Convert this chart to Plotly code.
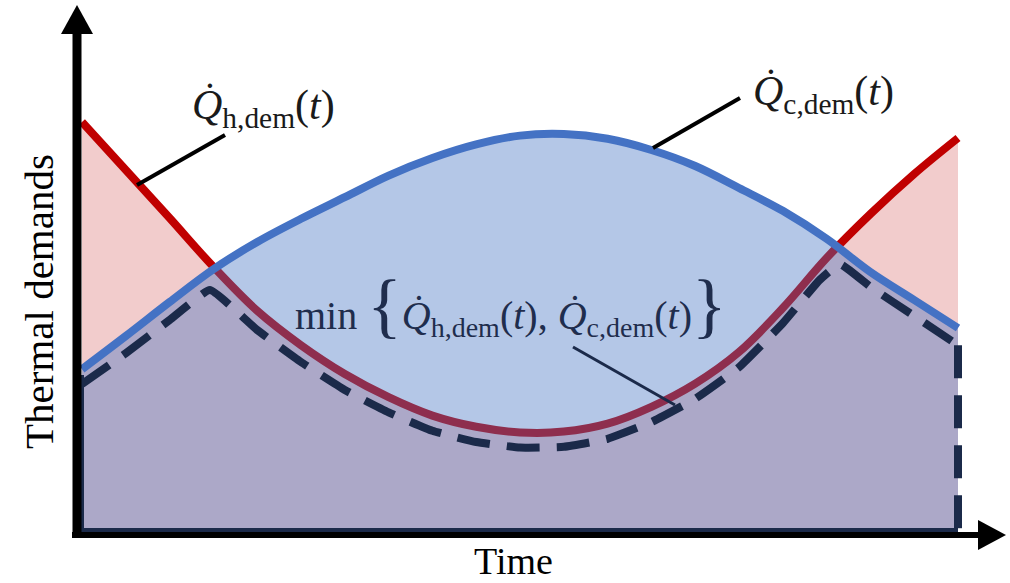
import plotly.graph_objects as go

W, H = 1010, 583

# ---- data ----
time = [0, 0.5, 1.0, 1.5, 2.0, 2.5, 3.0, 3.5, 4.0, 4.5, 5.0,
        5.5, 6.0, 6.5, 7.0, 7.5, 8.0, 8.5, 9.0, 9.5, 10.0]
heating_demand = [10.2, 9.0, 7.8, 6.58, 5.48, 4.62, 3.9, 3.32, 2.86, 2.58, 2.44,
                  2.46, 2.66, 3.08, 3.66, 4.45, 5.55, 6.8, 7.9, 8.9, 9.8]
cooling_demand = [4.02, 4.85, 5.7, 6.52, 7.2, 7.78, 8.32, 8.86, 9.3, 9.64, 9.86,
                  9.9, 9.78, 9.5, 9.1, 8.55, 7.98, 7.28, 6.45, 5.75, 5.05]
min_time = [0, 0.5, 1.0, 1.46, 2.0, 2.5, 3.0, 3.5, 4.0, 4.5, 5.0, 5.5,
            6.0, 6.5, 7.0, 7.5, 8.0, 8.42, 8.65, 9.0, 9.5, 10.0]
min_demand = [3.65, 4.42, 5.25, 6.0, 5.0, 4.2, 3.5, 2.94, 2.48, 2.2, 2.06, 2.08,
              2.28, 2.7, 3.28, 4.07, 5.17, 6.25, 6.65, 6.08, 5.35, 4.62]
end_time = [10.0, 10.0]
end_demand = [4.62, 0]

# ---- styles ----
RED = "#C00000"
BLUE = "#4472C4"
NAVY = "#1B2A4A"
SERIF = "Liberation Serif, Times New Roman, serif"


def px(x):
    return x / W


def py(y):
    return 1 - y / H


fig = go.Figure()

fig.add_trace(go.Scatter(x=time, y=heating_demand, mode="lines", line=dict(width=0, shape="spline"),
                         fill="tozeroy", fillcolor="rgba(192,0,0,0.2)", hoverinfo="skip", showlegend=False))
fig.add_trace(go.Scatter(x=time, y=heating_demand, mode="lines",
                         line=dict(color=RED, width=8, shape="spline"), showlegend=False))
fig.add_trace(go.Scatter(x=time, y=cooling_demand, mode="lines", line=dict(width=0, shape="spline"),
                         fill="tozeroy", fillcolor="rgba(68,114,196,0.4)", hoverinfo="skip", showlegend=False))
fig.add_trace(go.Scatter(x=time, y=cooling_demand, mode="lines",
                         line=dict(color=BLUE, width=8, shape="spline"), showlegend=False))
fig.add_trace(go.Scatter(x=min_time, y=min_demand, mode="lines",
                         line=dict(color=NAVY, width=8, dash="33px,17px", shape="spline", smoothing=0.35),
                         showlegend=False))
fig.add_trace(go.Scatter(x=end_time, y=end_demand, mode="lines",
                         line=dict(color=NAVY, width=8, dash="33px,17px"), showlegend=False))

shapes = [
    # thin navy border of the min area
    dict(type="line", xref="paper", yref="paper", x0=px(80), y0=py(530), x1=px(958), y1=py(530),
         line=dict(color=NAVY, width=4), layer="above"),
    dict(type="line", xref="paper", yref="paper", x0=px(82), y0=py(530), x1=px(82), y1=py(375),
         line=dict(color=NAVY, width=4), layer="above"),
    # y axis
    dict(type="line", xref="paper", yref="paper", x0=px(77), y0=py(538), x1=px(77), y1=py(30),
         line=dict(color="black", width=9), layer="above"),
    dict(type="path", xref="paper", yref="paper",
         path=f"M {px(77)},{py(5)} L {px(61)},{py(34)} L {px(93)},{py(34)} Z",
         fillcolor="black", line=dict(width=0), layer="above"),
    # x axis
    dict(type="line", xref="paper", yref="paper", x0=px(72), y0=py(535), x1=px(982), y1=py(535),
         line=dict(color="black", width=6), layer="above"),
    dict(type="path", xref="paper", yref="paper",
         path=f"M {px(1006)},{py(535)} L {px(978)},{py(520)} L {px(978)},{py(550)} Z",
         fillcolor="black", line=dict(width=0), layer="above"),
    # leader lines
    dict(type="line", xref="paper", yref="paper", x0=px(137), y0=py(185), x1=px(225), y1=py(135),
         line=dict(color="black", width=4), layer="above"),
    dict(type="line", xref="paper", yref="paper", x0=px(653), y0=py(148), x1=px(740), y1=py(98),
         line=dict(color="black", width=4), layer="above"),
    dict(type="line", xref="paper", yref="paper", x0=px(573), y0=py(347), x1=px(675), y1=py(405),
         line=dict(color=NAVY, width=3), layer="above"),
]

QH = "<i>Q̇</i><sub>h,dem</sub>(<i>t</i>)"
QC = "<i>Q̇</i><sub>c,dem</sub>(<i>t</i>)"
BR_L = "<span style='font-size:72px'>{</span>"
BR_R = "<span style='font-size:72px'>}</span>"

annotations = [
    dict(text=QH, xref="paper", yref="paper", x=px(190), y=py(108), xanchor="left", yanchor="middle",
         showarrow=False, font=dict(family=SERIF, size=42, color="#1a1a1a")),
    dict(text=QC, xref="paper", yref="paper", x=px(751), y=py(94), xanchor="left", yanchor="middle",
         showarrow=False, font=dict(family=SERIF, size=42, color="#1a1a1a")),
    dict(text="min " + BR_L + QH + ", " + QC + BR_R,
         xref="paper", yref="paper", x=px(511), y=py(305), xanchor="center", yanchor="middle",
         showarrow=False, font=dict(family=SERIF, size=40, color="#1F2D4D")),
    dict(text="Thermal demands", xref="paper", yref="paper", x=px(39), y=py(302), textangle=-90,
         xanchor="center", yanchor="middle", showarrow=False,
         font=dict(family=SERIF, size=41, color="black")),
    dict(text="Time", xref="paper", yref="paper", x=px(513), y=py(561), xanchor="center", yanchor="middle",
         showarrow=False, font=dict(family=SERIF, size=38, color="black")),
]

fig.update_layout(
    width=W, height=H,
    margin=dict(l=0, r=0, t=0, b=0),
    paper_bgcolor="white", plot_bgcolor="white",
    xaxis=dict(range=[-82 / 87.6, (W - 82) / 87.6], visible=False, fixedrange=True),
    yaxis=dict(range=[(530 - H) / 40, 530 / 40], visible=False, fixedrange=True),
    shapes=shapes, annotations=annotations,
)

fig.write_html("out.html", config={"displayModeBar": False},
               post_script="document.body.style.margin='0';")
